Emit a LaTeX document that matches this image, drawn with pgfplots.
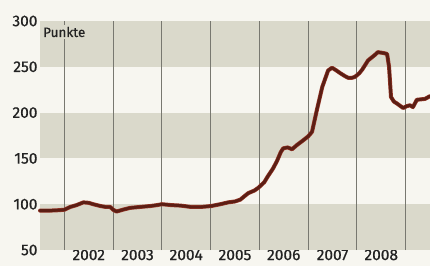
\documentclass[border=0pt]{standalone}
\usepackage{fontspec}
\setmainfont{Fira Sans}[FakeBold=0.6]
\usepackage{pgfplots}
\pgfplotsset{compat=1.18}
\definecolor{bg}{RGB}{247,246,240}
\definecolor{band}{RGB}{218,217,203}
\definecolor{vline}{RGB}{120,120,112}
\definecolor{lineedge}{RGB}{150,55,40}
\definecolor{linecore}{RGB}{92,30,20}
\definecolor{txt}{RGB}{35,35,35}
\begin{document}
\begin{tikzpicture}[x=1pt,y=1pt]
\useasboundingbox (-40,-16) rectangle (390,250);
\fill[bg] (-40,-16) rectangle (390,250);
\begin{axis}[
  at={(0,0)}, anchor=south west,
  scale only axis, width=390pt, height=229pt,
  xmin=2001.5, xmax=2009.5, ymin=50, ymax=300,
  axis line style={draw=none},
  tick style={draw=none},
  ytick={50,100,...,300},
  xtick={2002.5,2003.5,2004.5,2005.5,2006.5,2007.5,2008.5},
  xticklabels={2002,2003,2004,2005,2006,2007,2008},
  /pgf/number format/assume math mode=true,
  ticklabel style={font=\fontsize{15.5}{16}\selectfont, text=txt},
  yticklabel style={anchor=east, xshift=1pt},
  xticklabel style={anchor=north, yshift=4pt},
  clip=false,
]
\fill[band] (axis cs:2001.5,250) rectangle (axis cs:2009.5,300);
\fill[band] (axis cs:2001.5,150) rectangle (axis cs:2009.5,200);
\fill[band] (axis cs:2001.5,50) rectangle (axis cs:2009.5,100);
\foreach \yr in {2002,...,2009} {
  \edef\tmp{\noexpand\draw[vline, line width=0.9pt] (axis cs:\yr,50) -- (axis cs:\yr,300);}
  \tmp
}
\node[anchor=west, fill=band, inner sep=1.5pt, text=txt, font=\fontsize{13.5}{14}\selectfont] at (axis cs:2001.53,288) {Punkte};
\pgfplotstableread{
t v
2001.50 93
2001.70 93
2001.90 93.5
2002.00 94
2002.12 97
2002.25 99
2002.39 102
2002.50 101.5
2002.59 100
2002.74 98
2002.85 97
2002.94 97
2003.00 94
2003.07 92
2003.20 94
2003.35 96
2003.55 97
2003.76 98
2003.90 99
2004.00 100
2004.20 99
2004.38 98.5
2004.60 97
2004.80 97
2005.01 98
2005.20 100
2005.36 102
2005.50 103
2005.61 105
2005.70 109
2005.77 112
2005.90 115
2005.98 118
2006.10 124
2006.18 131
2006.28 139
2006.36 147
2006.44 157
2006.49 161
2006.58 162
2006.67 160
2006.78 165
2006.88 169
2007.00 174
2007.08 179
2007.18 203
2007.29 228
2007.41 246
2007.49 249
2007.58 246
2007.66 243
2007.75 240
2007.82 238
2007.90 238
2007.96 239
2008.05 243
2008.11 247
2008.23 257
2008.30 260
2008.37 263
2008.43 266
2008.55 265
2008.62 264
2008.66 250
2008.70 217
2008.76 212
2008.82 210
2008.95 205
2009.02 207
2009.09 208
2009.15 206
2009.23 214
2009.40 215
2009.50 218
}\data
\addplot[lineedge, line width=4pt, line join=round, line cap=round, no marks] table[x=t,y=v] {\data};
\addplot[linecore, line width=2.8pt, line join=round, line cap=round, no marks] table[x=t,y=v] {\data};
\end{axis}
\end{tikzpicture}
\end{document}
